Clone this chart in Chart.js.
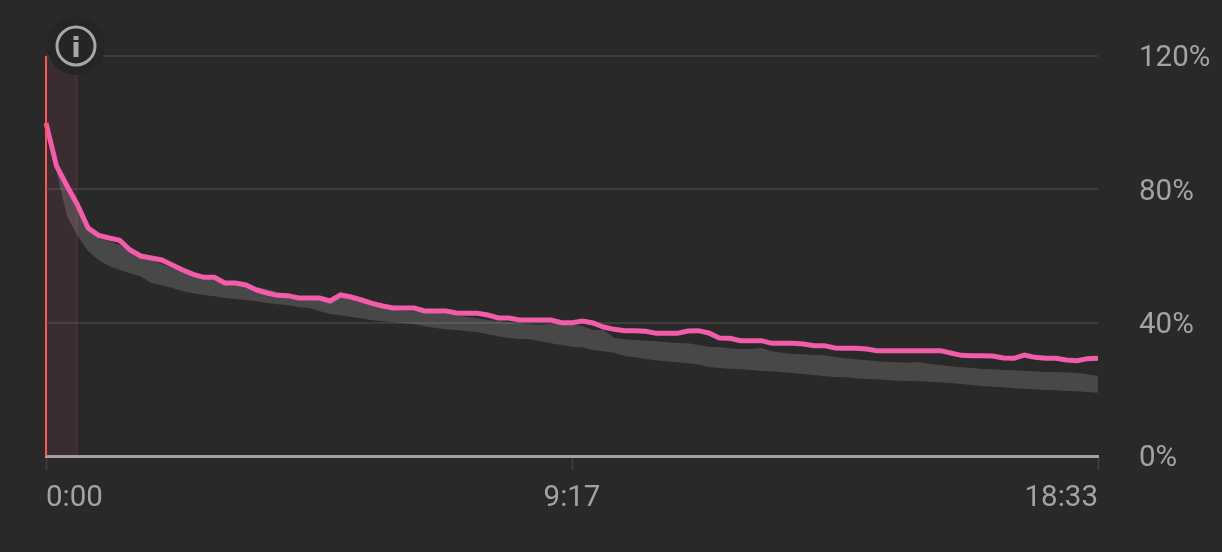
<!DOCTYPE html>
<html>
<head>
<meta charset="utf-8">
<style>
  html, body { margin: 0; background: #292929; }
  #wrap { position: relative; width: 1222px; height: 552px; overflow: hidden; }
  #info { position: absolute; left: 46px; top: 16px; }
</style>
</head>
<body>
<div id="wrap">
  <canvas id="my-chart" width="1222" height="552"></canvas>
  <svg id="info" width="60" height="60" viewBox="0 0 60 60">
    <circle cx="30" cy="30" r="29" fill="#252525"/>
    <circle cx="30" cy="30" r="19" fill="none" stroke="#a6a6a6" stroke-width="3"/>
    <rect x="27.5" y="26" width="5" height="15" fill="#a6a6a6"/>
    <rect x="27.5" y="20" width="5" height="4" fill="#a6a6a6"/>
  </svg>
</div>
<script src="https://cdn.jsdelivr.net/npm/chart.js@4"></script>
<script>
'use strict';

// DATA (percent, one reading every 1/100 of the clip)
const yourVideo = [99.9, 87, 81, 75.3, 68.4, 66.2, 65.4, 64.7, 61.8, 60,
  59.4, 58.8, 57.3, 55.8, 54.5, 53.6, 53.6, 51.9, 51.9, 51.3,
  49.8, 48.9, 48.2, 48.1, 47.4, 47.4, 47.4, 46.5, 48.3, 47.7,
  46.8, 45.8, 45, 44.4, 44.4, 44.4, 43.5, 43.5, 43.5, 42.9,
  42.8, 42.8, 42.3, 41.4, 41.4, 40.8, 40.8, 40.8, 40.8, 40,
  40, 40.5, 39.9, 38.7, 38, 37.6, 37.6, 37.4, 36.8, 36.8,
  36.8, 37.5, 37.6, 36.9, 35.4, 35.3, 34.6, 34.6, 34.6, 33.8,
  33.8, 33.8, 33.6, 33.1, 33.1, 32.4, 32.3, 32.3, 32.1, 31.6,
  31.6, 31.6, 31.6, 31.6, 31.6, 31.6, 30.9, 30.2, 30.1, 30.1,
  30, 29.4, 29.3, 30.3, 29.6, 29.3, 29.3, 28.8, 28.6, 29.2, 29.3];

const typicalHigh = [null, 87, 80.4, 74.4, 67.8, 65.4, 64.5, 63.3, 61.2, 59.4,
  58.8, 57.6, 56.4, 55.2, 54, 53.4, 53.1, 51.8, 51.8, 51.3,
  50.7, 50.1, 49.2, 48.3, 47.7, 47.3, 47, 46.8, 47.4, 47.4,
  46.5, 45.3, 44.4, 43.8, 43.5, 43.4, 43.1, 42.9, 42.6, 42.2,
  41.7, 41.3, 40.8, 40.5, 40.2, 39.9, 39.5, 39.3, 39.6, 39.8,
  39.3, 39, 37.8, 37.8, 35.4, 35, 34.8, 34.6, 34.4, 34.1,
  33.9, 33.8, 33.3, 32.8, 32.6, 32.3, 32.1, 32.1, 32.4, 31.4,
  31, 30.6, 30.5, 30.3, 30.2, 29.7, 29.3, 29, 28.7, 28.4,
  28.2, 28.1, 28, 28.2, 27.6, 27.3, 26.9, 26.6, 26.4, 26.1,
  26, 25.8, 25.7, 25.5, 25.4, 25.2, 25.1, 25.1, 24.9, 24.5, 24];

const typicalLow = [null, 85.2, 72, 66, 61.5, 58.7, 57, 55.8, 54.8, 53.9,
  51.9, 51.2, 50.4, 49.4, 48.8, 48.3, 47.9, 47.4, 47.1, 46.8,
  46.4, 45.9, 45.5, 45.2, 44.7, 44.4, 43.5, 42.6, 42.2, 41.7,
  41.3, 40.7, 40.4, 40.1, 39.8, 39.5, 38.9, 38.4, 38, 37.8,
  37.5, 37.1, 36.5, 35.9, 35.4, 35.1, 35, 34.4, 33.8, 33.3,
  32.8, 32.6, 31.8, 31.4, 31, 30, 29.6, 29.1, 28.7, 28.4,
  28.1, 27.8, 27.5, 26.7, 26.4, 26.2, 26, 25.8, 25.5, 25.4,
  25.1, 24.9, 24.6, 24.3, 23.9, 23.7, 23.6, 23.3, 23.1, 23,
  22.8, 22.6, 22.5, 22.4, 22.3, 22.1, 21.9, 21.6, 21.3, 21,
  20.8, 20.6, 20.3, 20.2, 20, 19.8, 19.7, 19.5, 19.4, 19.2, 19];

const tickIndexes = [0, 50, 100];
const tickLabels = ['0:00', '9:17', '18:33'];
const highlightEnd = 3;

// LABELS
let labels = [];
for (let i = 0; i < yourVideo.length; i++) {
  labels.push(i);
}

const textColor = '#a3a3a3';
const font = { family: 'Roboto', size: 29.5 };

// strip and red marker at the start of the clip
const highlightPlugin = {
  id: 'highlight',
  beforeDatasetsDraw(chart) {
    const { ctx, scales, chartArea } = chart;
    const left = scales.x.getPixelForValue(0);
    const right = scales.x.getPixelForValue(highlightEnd);
    ctx.save();
    ctx.fillStyle = 'rgba(245, 80, 130, 0.09)';
    ctx.fillRect(left, chartArea.top, right - left, chartArea.height);
    ctx.fillRect(right - 2, chartArea.top, 2, chartArea.height);
    ctx.restore();
  },
  afterDatasetsDraw(chart) {
    const { ctx, scales, chartArea } = chart;
    const left = scales.x.getPixelForValue(0);
    ctx.save();
    ctx.fillStyle = '#fb5459';
    ctx.fillRect(left - 1, chartArea.top, 2, chartArea.height);
    ctx.restore();
  }
};

let chartObj = {
  type: 'line',
  data: {
    labels: labels,
    datasets: [
      {
        label: 'This video',
        data: yourVideo,
        borderColor: '#f25ca8',
        borderWidth: 5,
        pointRadius: 0,
        tension: 0,
        fill: false
      },
      {
        label: 'Typical high',
        data: typicalHigh,
        borderWidth: 0,
        pointRadius: 0,
        tension: 0,
        fill: '+1',
        backgroundColor: 'rgba(255, 255, 255, 0.15)'
      },
      {
        label: 'Typical low',
        data: typicalLow,
        borderWidth: 0,
        pointRadius: 0,
        tension: 0,
        fill: false
      }
    ]
  },
  options: {
    responsive: false,
    animation: false,
    layout: { padding: { top: 56, left: 46, right: 0, bottom: 0 } },
    plugins: {
      legend: { display: false },
      tooltip: { enabled: false }
    },
    scales: {
      x: {
        type: 'category',
        offset: false,
        afterBuildTicks(axis) {
          axis.ticks = tickIndexes.map(v => ({ value: v }));
        },
        afterFit(axis) {
          axis.height = 96;
        },
        grid: {
          drawOnChartArea: false,
          drawTicks: true,
          tickLength: 14,
          tickColor: '#3c3c3c',
          tickWidth: 2
        },
        border: { display: true, color: '#a3a3a3', width: 3 },
        ticks: {
          autoSkip: false,
          maxRotation: 0,
          align: 'inner',
          padding: 11,
          color: textColor,
          font: font,
          callback(value) {
            return tickLabels[tickIndexes.indexOf(value)];
          }
        }
      },
      y: {
        position: 'right',
        min: 0,
        max: 120,
        afterFit(axis) {
          axis.width = 124;
        },
        grid: {
          color: '#3c3c3c',
          lineWidth: 2,
          drawTicks: false
        },
        border: { display: false },
        ticks: {
          stepSize: 40,
          padding: 41,
          color: textColor,
          // empty first line + small lineHeight pushes the text down onto the gridline
          font: { family: font.family, size: font.size, lineHeight: '6px' },
          callback(value) {
            return ['', value + '%'];
          }
        }
      }
    }
  },
  plugins: [highlightPlugin]
};

new Chart(document.getElementById('my-chart'), chartObj);
</script>
</body>
</html>
